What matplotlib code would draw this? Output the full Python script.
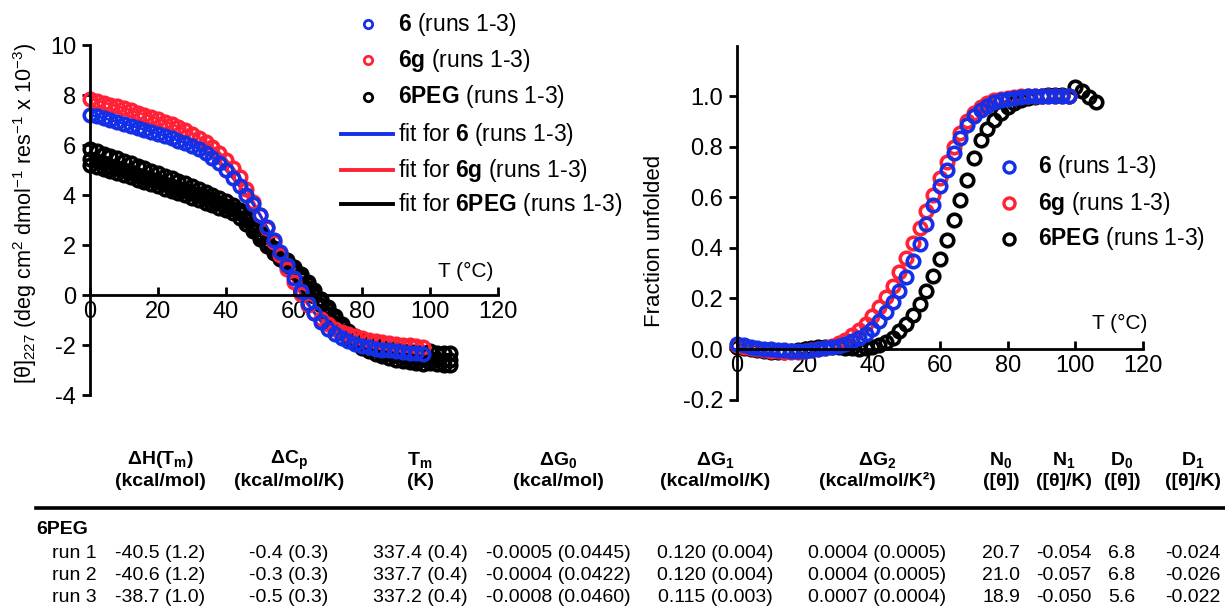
import matplotlib
matplotlib.use("Agg")
import matplotlib.pyplot as plt
from matplotlib.lines import Line2D

plt.rcParams['font.family'] = ['Liberation Sans', 'DejaVu Sans']
plt.rcParams['mathtext.fontset'] = 'custom'
plt.rcParams['mathtext.rm'] = 'Liberation Sans'
plt.rcParams['mathtext.it'] = 'Liberation Sans:italic'
plt.rcParams['mathtext.bf'] = 'Liberation Sans:bold'
plt.rcParams['axes.unicode_minus'] = False

# ---- data ----
temp_6 = list(range(0, 100, 2))
temp_peg = list(range(0, 108, 2))

# mean residue ellipticity at 227 nm (x 10^-3)
theta_6 = [7.2, 7.15, 7.08, 7.0, 6.93, 6.85, 6.78, 6.7, 6.62, 6.53,
           6.45, 6.37, 6.28, 6.18, 6.08, 5.97, 5.85, 5.7, 5.5, 5.27,
           5.0, 4.68, 4.35, 4.0, 3.63, 3.2, 2.72, 2.22, 1.72, 1.2,
           0.68, 0.18, -0.3, -0.72, -1.08, -1.36, -1.57, -1.73, -1.85, -1.95,
           -2.03, -2.09, -2.14, -2.18, -2.21, -2.24, -2.27, -2.3, -2.33, -2.36]
theta_6g = [7.85, 7.78, 7.7, 7.62, 7.55, 7.47, 7.39, 7.3, 7.22, 7.13,
            7.04, 6.94, 6.83, 6.72, 6.6, 6.46, 6.3, 6.12, 5.92, 5.7,
            5.42, 5.1, 4.72, 4.25, 3.74, 3.22, 2.68, 2.14, 1.6, 1.05,
            0.52, 0.04, -0.38, -0.7, -0.96, -1.17, -1.34, -1.47, -1.57, -1.65,
            -1.72, -1.78, -1.83, -1.87, -1.91, -1.95, -1.98, -2.01, -2.04, -2.07]
theta_peg_run1 = [5.85, 5.75, 5.66, 5.56, 5.47, 5.37, 5.27, 5.18, 5.08, 4.98,
                  4.88, 4.78, 4.68, 4.58, 4.47, 4.36, 4.25, 4.13, 4.01, 3.89,
                  3.76, 3.61, 3.42, 3.13, 2.8, 2.48, 2.18, 1.9, 1.65, 1.4,
                  1.14, 0.86, 0.54, 0.21, -0.14, -0.49, -0.84, -1.15, -1.42, -1.63,
                  -1.79, -1.91, -2.0, -2.07, -2.13, -2.18, -2.22, -2.26, -2.29, -2.32,
                  -2.25, -2.3, -2.33, -2.32]
theta_peg_run2 = [5.45, 5.36, 5.27, 5.18, 5.09, 5.0, 4.91, 4.82, 4.73, 4.64,
                  4.55, 4.46, 4.37, 4.28, 4.19, 4.1, 4.0, 3.9, 3.8, 3.7,
                  3.58, 3.45, 3.28, 3.0, 2.68, 2.37, 2.07, 1.8, 1.55, 1.3,
                  1.04, 0.75, 0.43, 0.1, -0.25, -0.6, -0.95, -1.27, -1.55, -1.77,
                  -1.94, -2.07, -2.17, -2.25, -2.32, -2.38, -2.43, -2.48, -2.52, -2.55,
                  -2.5, -2.55, -2.58, -2.6]
theta_peg_run3 = [5.2, 5.12, 5.04, 4.96, 4.88, 4.8, 4.71, 4.62, 4.53, 4.44,
                  4.35, 4.26, 4.17, 4.08, 3.99, 3.9, 3.8, 3.7, 3.6, 3.5,
                  3.39, 3.27, 3.1, 2.85, 2.55, 2.25, 1.95, 1.68, 1.43, 1.18,
                  0.92, 0.63, 0.3, -0.04, -0.4, -0.76, -1.1, -1.42, -1.7, -1.92,
                  -2.1, -2.24, -2.35, -2.44, -2.52, -2.58, -2.63, -2.68, -2.72, -2.75,
                  -2.72, -2.76, -2.78, -2.8]

# fraction unfolded
frac_6 = [0.02, 0.015, 0.01, 0.005, 0.0, 0.0, -0.005, -0.005, -0.008, -0.008,
          -0.006, -0.004, 0.0, 0.004, 0.008, 0.013, 0.02, 0.03, 0.042, 0.06,
          0.08, 0.11, 0.145, 0.185, 0.23, 0.285, 0.35, 0.415, 0.495, 0.57,
          0.645, 0.71, 0.775, 0.835, 0.885, 0.92, 0.945, 0.962, 0.975, 0.984,
          0.99, 0.994, 0.997, 0.999, 1.0, 1.0, 1.0, 1.0, 1.0, 1.0]
frac_6g = [0.015, 0.01, 0.005, 0.0, -0.004, -0.006, -0.008, -0.01, -0.01, -0.01,
           -0.008, -0.004, 0.0, 0.006, 0.013, 0.022, 0.035, 0.055, 0.075, 0.1,
           0.13, 0.165, 0.205, 0.25, 0.305, 0.36, 0.42, 0.48, 0.545, 0.61,
           0.675, 0.74, 0.8, 0.855, 0.9, 0.935, 0.958, 0.973, 0.983, 0.99,
           0.994, 0.997, 0.999, 1.0, 1.0, 1.0, 1.0, 1.0, 1.0, 1.0]
frac_peg = [0.01, 0.005, 0.0, -0.005, -0.008, -0.01, -0.01, -0.01, -0.008, -0.005,
            0.0, 0.005, 0.01, 0.01, 0.01, 0.008, 0.005, 0.003, 0.002, 0.004,
            0.008, 0.015, 0.028, 0.045, 0.07, 0.1, 0.135, 0.18, 0.23, 0.29,
            0.355, 0.43, 0.51, 0.59, 0.67, 0.755, 0.825, 0.87, 0.905, 0.935,
            0.958, 0.974, 0.985, 0.992, 0.997, 1.0, 1.003, 1.006, 1.004, 1.0,
            1.035, 1.02, 0.995, 0.975]

# table
col_heads = ['ΔH(T$_\\mathbf{m}$)', 'ΔC$_\\mathbf{p}$', 'T$_\\mathbf{m}$', 'ΔG$_\\mathbf{0}$',
             'ΔG$_\\mathbf{1}$', 'ΔG$_\\mathbf{2}$', 'N$_\\mathbf{0}$', 'N$_\\mathbf{1}$',
             'D$_\\mathbf{0}$', 'D$_\\mathbf{1}$']
col_units = ['(kcal/mol)', '(kcal/mol/K)', '(K)', '(kcal/mol)', '(kcal/mol/K)',
             '(kcal/mol/K²)', '([θ])', '([θ]/K)', '([θ])', '([θ]/K)']
row_names = ['run 1', 'run 2', 'run 3']
table_rows = [
    ['-40.5 (1.2)', '-0.4 (0.3)', '337.4 (0.4)', '-0.0005 (0.0445)', '0.120 (0.004)',
     '0.0004 (0.0005)', '20.7', '-0.054', '6.8', '-0.024'],
    ['-40.6 (1.2)', '-0.3 (0.3)', '337.7 (0.4)', '-0.0004 (0.0422)', '0.120 (0.004)',
     '0.0004 (0.0005)', '21.0', '-0.057', '6.8', '-0.026'],
    ['-38.7 (1.0)', '-0.5 (0.3)', '337.2 (0.4)', '-0.0008 (0.0460)', '0.115 (0.003)',
     '0.0007 (0.0004)', '18.9', '-0.050', '5.6', '-0.022'],
]

BLUE = '#1430e6'
RED = '#ff2236'
BLACK = '#000000'

W, H = 1225, 607
fig = plt.figure(figsize=(W / 100, H / 100), dpi=100)


def fx(px):
    return px / W


def fy(py):
    return 1 - py / H


def style_axes(ax):
    ax.spines['top'].set_visible(False)
    ax.spines['right'].set_visible(False)
    ax.spines['bottom'].set_position(('data', 0))
    for s in ('left', 'bottom'):
        ax.spines[s].set_linewidth(2.0)
    ax.tick_params(axis='x', direction='in', length=6, width=2, labelsize=17, pad=4)
    ax.tick_params(axis='y', direction='out', length=6, width=2, labelsize=17, pad=4)
    ax.set_xlim(0, 120)
    ax.set_xticks([0, 20, 40, 60, 80, 100, 120])


mk = dict(marker='o', linestyle='none', mfc='none', ms=9, mew=2.6, clip_on=False)

# ---- left panel: ellipticity ----
ax1 = fig.add_axes([fx(90), fy(395), fx(408), 350 / H])
style_axes(ax1)
ax1.set_ylim(-4, 10)
ax1.set_yticks([-4, -2, 0, 2, 4, 6, 8, 10])

ax1.plot(temp_peg, theta_peg_run2, color=BLACK, lw=2, zorder=1)
ax1.plot(temp_6, theta_6g, color=RED, lw=2, zorder=1)
ax1.plot(temp_6, theta_6, color=BLUE, lw=2, zorder=1)
for run in (theta_peg_run1, theta_peg_run2, theta_peg_run3):
    ax1.plot(temp_peg, run, mec=BLACK, zorder=2, **mk)
ax1.plot(temp_6, theta_6g, mec=RED, zorder=2.1, **mk)
ax1.plot(temp_6, theta_6, mec=BLUE, zorder=2.2, **mk)
ax1.text(110.5, 0.95, 'T (°C)', ha='center', va='center', fontsize=15)

fig.text(fx(25), fy(213),
         '[θ]$_{227}$ (deg cm$^{2}$ dmol$^{-1}$ res$^{-1}$ x 10$^{-3}$)',
         rotation=90, ha='center', va='center', fontsize=15.6)

# ---- right panel: fraction unfolded ----
ax2 = fig.add_axes([fx(737), fy(399.6), fx(406), 354 / H])
style_axes(ax2)
ax2.set_ylim(-0.2, 1.2)
ax2.set_yticks([-0.2, 0.0, 0.2, 0.4, 0.6, 0.8, 1.0])
ax2.set_yticklabels(['-0.2', '0.0', '0.2', '0.4', '0.6', '0.8', '1.0'])

ax2.plot(temp_peg, frac_peg, mec=BLACK, zorder=2, **mk)
ax2.plot(temp_6, frac_6g, mec=RED, zorder=2.1, **mk)
ax2.plot(temp_6, frac_6, mec=BLUE, zorder=2.2, **mk)
ax2.text(113, 0.103, 'T (°C)', ha='center', va='center', fontsize=15)
fig.text(fx(655), fy(241), 'Fraction unfolded', rotation=90,
         ha='center', va='center', fontsize=16)

# ---- legends (drawn by hand to match layout) ----
names = ['6', '6g', '6PEG']
colors = [BLUE, RED, BLACK]
left_rows = [24, 60, 97]
line_rows = [134, 170, 204]
for name, c, yy in zip(names, colors, left_rows):
    fig.add_artist(Line2D([fx(368)], [fy(yy)], marker='o', mfc='none', mec=c,
                          ms=6, mew=2.0, linestyle='none'))
    fig.text(fx(398), fy(yy), '$\\mathbf{%s}$ (runs 1-3)' % name,
             ha='left', va='center', fontsize=16.5)
for name, c, yy in zip(names, colors, line_rows):
    fig.add_artist(Line2D([fx(341), fx(393)], [fy(yy), fy(yy)], color=c, lw=2.8))
    fig.text(fx(398), fy(yy), 'fit for $\\mathbf{%s}$ (runs 1-3)' % name,
             ha='left', va='center', fontsize=16.5)

right_rows = [167, 203, 239]
for name, c, yy in zip(names, colors, right_rows):
    fig.add_artist(Line2D([fx(1009)], [fy(yy)], marker='o', mfc='none', mec=c,
                          ms=8, mew=2.4, linestyle='none'))
    fig.text(fx(1038), fy(yy), '$\\mathbf{%s}$ (runs 1-3)' % name,
             ha='left', va='center', fontsize=16.5)

# ---- table ----
col_x = [160, 289, 420, 558, 715, 877, 1001, 1064, 1122, 1193]
for cx, head, unit in zip(col_x, col_heads, col_units):
    fig.text(fx(cx), fy(460), head, ha='center', va='center',
             fontsize=14, fontweight='bold')
    fig.text(fx(cx), fy(481), unit, ha='center', va='center',
             fontsize=14, fontweight='bold')

fig.add_artist(Line2D([fx(36), fx(1225)], [fy(508), fy(508)], color='k', lw=2.6))
fig.text(fx(36), fy(529), '6PEG', ha='left', va='center', fontsize=14,
         fontweight='bold')
row_y = [553, 575, 597]
for name, vals, yy in zip(row_names, table_rows, row_y):
    fig.text(fx(52), fy(yy), name, ha='left', va='center', fontsize=14)
    for cx, v in zip(col_x, vals):
        fig.text(fx(cx), fy(yy), v, ha='center', va='center', fontsize=14)

fig.savefig('out.png', dpi=100)
